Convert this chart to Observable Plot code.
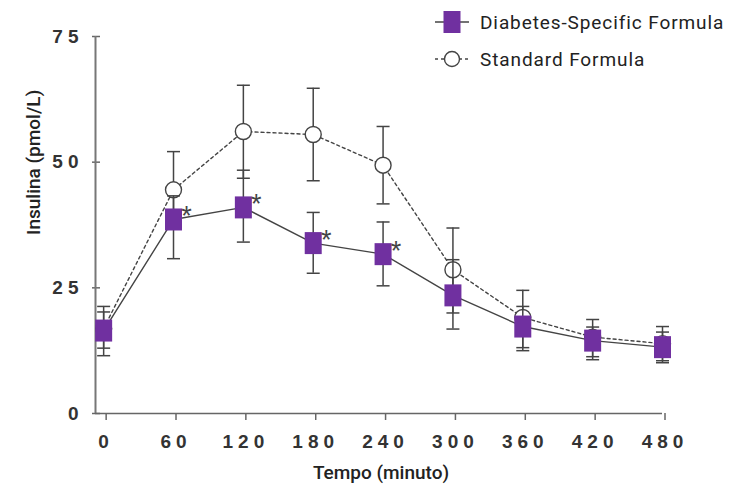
<!DOCTYPE html>
<html>
<head>
<meta charset="utf-8">
<script src="https://cdn.jsdelivr.net/npm/d3@7"></script>
<script src="https://cdn.jsdelivr.net/npm/@observablehq/plot@0.6"></script>
<style>
  html, body { margin: 0; padding: 0; background: #fff; }
  #wrap { position: relative; width: 740px; height: 488px; }
  #legend { position: absolute; left: 0; top: 0; font-family: Roboto, "Liberation Sans", sans-serif; font-size: 19px; letter-spacing: 0.9px; color: #222; }
  .row { position: absolute; left: 433px; height: 30px; display: flex; align-items: center; white-space: nowrap; }
  .row svg { display: block; margin-right: 7px; }
  g[aria-label="x-axis tick label"] text, g[aria-label="y-axis tick label"] text { letter-spacing: 5px; }
</style>
</head>
<body>
<div id="wrap">
  <div id="chart"></div>
  <div id="legend"></div>
</div>
<script>
// ---- data ----
const times = [0, 60, 120, 180, 240, 300, 360, 420, 480];
const dsfMean = [16.5, 38.6, 41.0, 33.9, 31.7, 23.5, 17.3, 14.5, 13.2];
const dsfLow  = [13.0, 30.8, 34.1, 27.9, 25.4, 16.8, 12.5, 10.7, 10.1];
const dsfHigh = [20.2, 43.3, 48.4, 40.0, 38.1, 30.6, 21.3, 17.2, 16.2];
const stdMean = [16.9, 44.5, 56.1, 55.5, 49.4, 28.6, 19.1, 15.2, 13.9];
const stdLow  = [11.5, 36.9, 46.8, 46.3, 41.7, 20.0, 13.1, 11.3, 10.5];
const stdHigh = [21.3, 52.1, 65.3, 64.7, 57.1, 36.9, 24.5, 18.7, 17.3];
const significant = [false, true, true, true, true, false, false, false, false];
const seriesNames = ["Diabetes-Specific Formula", "Standard Formula"];
const yTicks = [0, 25, 50, 75];
const xTicks = [0, 60, 120, 180, 240, 300, 360, 420, 480];
const yTitle = "Insulina (pmol/L)";
const xTitle = "Tempo (minuto)";

const dsf = times.map((t, i) => ({t, mean: dsfMean[i], lo: dsfLow[i], hi: dsfHigh[i], sig: significant[i]}));
const std = times.map((t, i) => ({t, mean: stdMean[i], lo: stdLow[i], hi: stdHigh[i]}));

const purple = "#7030a0";
const ink = "#444";

const capSymbol = { draw(ctx) { ctx.moveTo(-6.5, 0); ctx.lineTo(6.5, 0); } };
const rectSymbol = { draw(ctx) { ctx.moveTo(-8.5, -11); ctx.lineTo(8.5, -11); ctx.lineTo(8.5, 11); ctx.lineTo(-8.5, 11); ctx.closePath(); } };

const errorBars = (data) => [
  Plot.ruleX(data, {x: "t", y1: "lo", y2: "hi", stroke: ink, strokeWidth: 1.5}),
  Plot.dot(data, {x: "t", y: "lo", symbol: capSymbol, stroke: ink, strokeWidth: 1.5, fill: "none"}),
  Plot.dot(data, {x: "t", y: "hi", symbol: capSymbol, stroke: ink, strokeWidth: 1.5, fill: "none"})
];

const chart = Plot.plot({
  width: 740,
  height: 488,
  marginLeft: 95,
  marginRight: 78,
  marginTop: 36,
  marginBottom: 75,
  style: { fontFamily: "'Liberation Sans', Arial, sans-serif", color: "#333", background: "#fff" },
  x: { domain: [-7, 480] },
  y: { domain: [0, 75] },
  marks: [
    Plot.axisY(yTicks, {tickSize: 8, tickPadding: 9, fontSize: 19, fontWeight: "bold", stroke: "#666", strokeWidth: 1.5, label: null, dx: 5}),
    Plot.axisX(xTicks, {tickSize: 7, tickPadding: 14, fontSize: 19, fontWeight: "bold", stroke: "#666", strokeWidth: 1.5, label: null, dx: 2.5}),
    Plot.ruleX([-7], {stroke: "#777", strokeWidth: 2}),
    Plot.ruleY([0], {stroke: "#666", strokeWidth: 1.5}),
    Plot.text([yTitle], {frameAnchor: "left", rotate: -90, dx: -62, dy: 10, fontSize: 19, fontWeight: 500, fontFamily: "Roboto, sans-serif", fill: "#222"}),
    Plot.text([xTitle], {frameAnchor: "bottom", dx: 2, dy: 65, fontSize: 19, fontWeight: 500, fontFamily: "Roboto, sans-serif", fill: "#222"}),
    ...errorBars(std),
    Plot.line(std, {x: "t", y: "mean", stroke: ink, strokeWidth: 1.4, strokeDasharray: "3,3"}),
    Plot.dot(std, {x: "t", y: "mean", r: 8, stroke: ink, strokeWidth: 1.4, fill: "white"}),
    ...errorBars(dsf),
    Plot.line(dsf, {x: "t", y: "mean", stroke: ink, strokeWidth: 1.4}),
    Plot.dot(dsf, {x: "t", y: "mean", symbol: rectSymbol, fill: purple, stroke: "none"}),
    Plot.text(dsf.filter(d => d.sig), {x: "t", y: "mean", text: () => "*", dx: 13, dy: -3, fontSize: 27, fill: ink})
  ]
});
document.getElementById("chart").appendChild(chart);

// ---- legend ----
const legend = document.getElementById("legend");
const swatches = [
  `<svg width="40" height="30"><line x1="2" x2="36" y1="15" y2="15" stroke="${ink}" stroke-width="1.5"/><rect x="10.5" y="4" width="17" height="22" fill="${purple}"/></svg>`,
  `<svg width="40" height="30"><line x1="2" x2="36" y1="15" y2="15" stroke="${ink}" stroke-width="1.5" stroke-dasharray="3,3"/><circle cx="19" cy="15" r="7.5" fill="white" stroke="${ink}" stroke-width="1.4"/></svg>`
];
const tops = [7, 44];
seriesNames.forEach((name, i) => {
  const row = document.createElement("div");
  row.className = "row";
  row.style.top = tops[i] + "px";
  row.innerHTML = swatches[i] + `<span>${name}</span>`;
  legend.appendChild(row);
});
</script>
</body>
</html>
